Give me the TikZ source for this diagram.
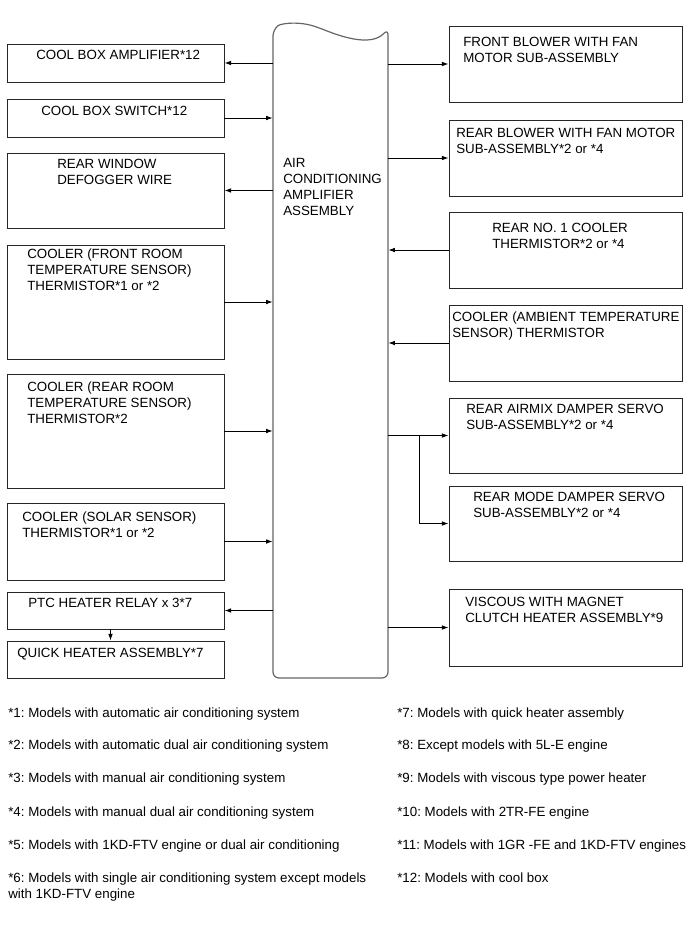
\documentclass[tikz,border=0pt]{standalone}
\usepackage{fontspec}
\setmainfont{Liberation Sans}
\usetikzlibrary{arrows.meta,fit,calc}
\frenchspacing
\begin{document}
\begin{tikzpicture}[x=0.75pt,y=-0.75pt,
  box/.style={draw=black!85, line width=0.7pt, inner sep=0pt},
  txt/.style={anchor=north west, inner sep=0pt, align=left, font=\fontsize{10}{12}\selectfont},
  arr/.style={line width=0.7pt, -{Latex[length=5pt,width=3.5pt]}},
  ampline/.style={draw=black!60, line width=0.9pt}]
\useasboundingbox (0,0) rectangle (691,952);

% central amplifier
\node[inner sep=0pt, fit={(273,24) (388,678)}] (amp) {};
\draw[ampline, rounded corners=4.5pt] (273,30) .. controls (281,23) and (300,21) .. (322,29)
  .. controls (345,38) and (372,46) .. (388,29) -- (388,678) -- (273,678) -- cycle;
\node[txt] (ampt) at (283,158) {AIR\\CONDITIONING\\AMPLIFIER\\ASSEMBLY};

% left boxes
\node[box, fit={(7,44) (224,82)}] (l1) {};
\node[box, fit={(7,99) (224,137)}] (l2) {};
\node[box, fit={(7,153) (224,228)}] (l3) {};
\node[box, fit={(7,245) (224,359)}] (l4) {};
\node[box, fit={(7,374) (224,488)}] (l5) {};
\node[box, fit={(7,503) (224,580)}] (l6) {};
\node[box, fit={(7,592) (224,629)}] (l7) {};
\node[box, fit={(7,641) (224,678)}] (l8) {};

\node[txt] (l1t) at (36,50) {COOL BOX AMPLIFIER*12};
\node[txt] (l2t) at (41,106) {COOL BOX SWITCH*12};
\node[txt] (l3t) at (57,159) {REAR WINDOW\\DEFOGGER WIRE};
\node[txt] (l4t) at (27,249) {COOLER (FRONT ROOM\\TEMPERATURE SENSOR)\\THERMISTOR*1 or *2};
\node[txt] (l5t) at (27,382) {COOLER (REAR ROOM\\TEMPERATURE SENSOR)\\THERMISTOR*2};
\node[txt] (l6t) at (22,512) {COOLER (SOLAR SENSOR)\\THERMISTOR*1 or *2};
\node[txt] (l7t) at (28,598) {PTC HEATER RELAY x 3*7};
\node[txt] (l8t) at (17,648) {QUICK HEATER ASSEMBLY*7};

% right boxes
\node[box, fit={(449,26) (682,102)}] (r1) {};
\node[box, fit={(449,120) (682,196)}] (r2) {};
\node[box, fit={(449,212) (682,288)}] (r3) {};
\node[box, fit={(449,305) (682,381)}] (r4) {};
\node[box, fit={(449,398) (682,473)}] (r5) {};
\node[box, fit={(449,486) (682,561)}] (r6) {};
\node[box, fit={(449,589) (682,666)}] (r7) {};

\node[txt] (r1t) at (463,37) {FRONT BLOWER WITH FAN\\MOTOR SUB-ASSEMBLY};
\node[txt] (r2t) at (456,128) {REAR BLOWER WITH FAN MOTOR\\SUB-ASSEMBLY*2 or *4};
\node[txt] (r3t) at (492,223) {REAR NO. 1 COOLER\\THERMISTOR*2 or *4};
\node[txt] (r4t) at (452,312) {COOLER (AMBIENT TEMPERATURE\\SENSOR) THERMISTOR};
\node[txt] (r5t) at (466,404) {REAR AIRMIX DAMPER SERVO\\SUB-ASSEMBLY*2 or *4};
\node[txt] (r6t) at (473,492) {REAR MODE DAMPER SERVO\\SUB-ASSEMBLY*2 or *4};
\node[txt] (r7t) at (465,597) {VISCOUS WITH MAGNET\\CLUTCH HEATER ASSEMBLY*9};

% connectors left
\draw[arr] (amp.west |- l1.east) -- (l1.east);
\draw[arr] (l2.east) -- (amp.west |- l2.east);
\draw[arr] (amp.west |- l3.east) -- (l3.east);
\draw[arr] (l4.east) -- (amp.west |- l4.east);
\draw[arr] (l5.east) -- (amp.west |- l5.east);
\draw[arr] (l6.east) -- (amp.west |- l6.east);
\draw[arr] (amp.west |- l7.east) -- (l7.east);
\draw[arr] ($(l7.south)+(-5,0)$) -- ($(l8.north)+(-5,0)$);

% connectors right
\draw[arr] (amp.east |- r1.west) -- (r1.west);
\draw[arr] (amp.east |- r2.west) -- (r2.west);
\draw[arr] (r3.west) -- (amp.east |- r3.west);
\draw[arr] (r4.west) -- (amp.east |- r4.west);
\draw[arr] (amp.east |- r5.west) -- (r5.west);
\coordinate (br) at (419,436);
\draw[arr] (br |- r5.west) |- (r6.west);
\draw[arr] (amp.east |- r7.west) -- (r7.west);

% footnotes
\node[txt] (n1) at (8,708) {*1: Models with automatic air conditioning system};
\node[txt] (n2) at (8,740) {*2: Models with automatic dual air conditioning system};
\node[txt] (n3) at (8,773) {*3: Models with manual air conditioning system};
\node[txt] (n4) at (8,807) {*4: Models with manual dual air conditioning system};
\node[txt] (n5) at (8,840) {*5: Models with 1KD-FTV engine or dual air conditioning};
\node[txt] (n6) at (8,873) {*6: Models with single air conditioning system except models\\with 1KD-FTV engine};
\node[txt] (n7) at (397,708) {*7: Models with quick heater assembly};
\node[txt] (n8) at (397,740) {*8: Except models with 5L-E engine};
\node[txt] (n9) at (397,773) {*9: Models with viscous type power heater};
\node[txt] (n10) at (397,807) {*10: Models with 2TR-FE engine};
\node[txt] (n11) at (397,840) {*11: Models with 1GR -FE and 1KD-FTV engines};
\node[txt] (n12) at (397,873) {*12: Models with cool box};
\end{tikzpicture}
\end{document}
